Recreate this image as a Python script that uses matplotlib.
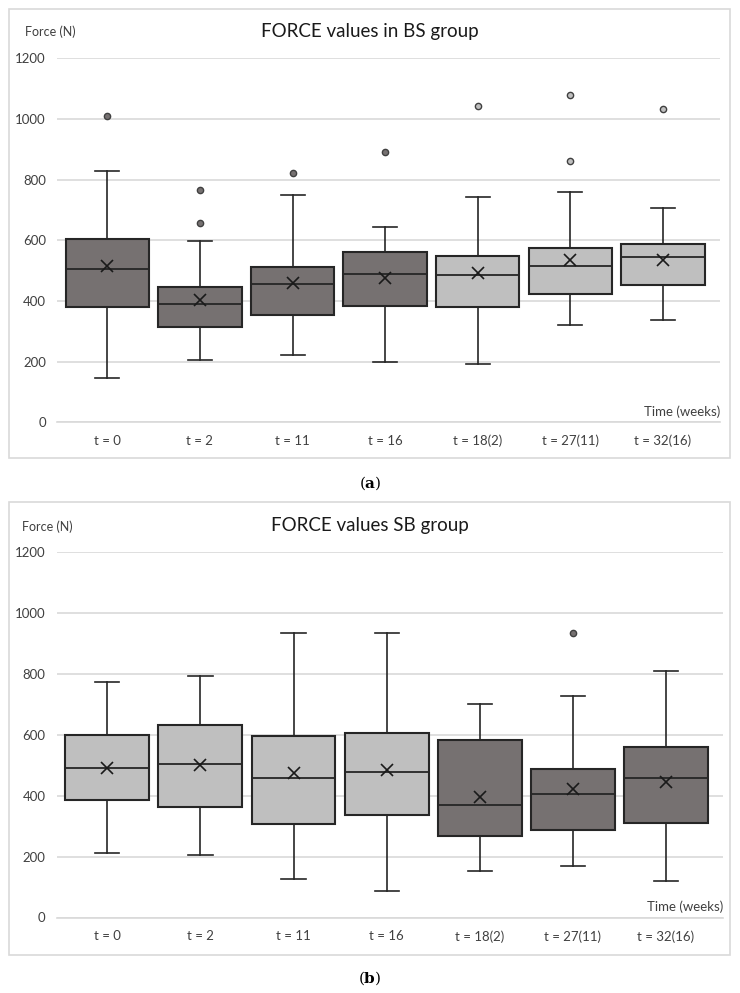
import matplotlib
matplotlib.use("Agg")
import matplotlib.pyplot as plt
from matplotlib.patches import Rectangle

plt.rcParams['font.family'] = ['Lato', 'DejaVu Sans']
plt.rcParams['mathtext.fontset'] = 'dejavuserif'

labels = ['t = 0', 't = 2', 't = 11', 't = 16', 't = 18(2)', 't = 27(11)', 't = 32(16)']

# panel (a): BS group
bs_low = [146, 205, 222, 199, 193, 320, 338]
bs_q1 = [379, 315, 353, 382, 379, 424, 452]
bs_med = [504, 390, 456, 489, 486, 516, 544]
bs_q3 = [604, 445, 512, 560, 549, 574, 587]
bs_high = [828, 597, 748, 643, 744, 758, 706]
bs_mean = [516, 403, 458, 477, 491, 534, 536]
bs_out = [[1011], [766, 658], [822], [891], [1044], [861, 1079], [1033]]
bs_dark = [True, True, True, True, False, False, False]

# panel (b): SB group
sb_low = [212, 204, 127, 87, 154, 169, 119]
sb_q1 = [386, 362, 308, 336, 268, 287, 310]
sb_med = [490, 504, 459, 478, 369, 405, 458]
sb_q3 = [599, 634, 597, 607, 583, 489, 561]
sb_high = [773, 794, 935, 936, 701, 727, 810]
sb_mean = [492, 501, 474, 485, 395, 421, 446]
sb_out = [[], [], [], [], [], [936], []]
sb_dark = [False, False, False, False, True, True, True]

DARK = '#767171'
LIGHT = '#bfbfbf'
EDGE = '#262626'
GRID = '#d9d9d9'
TXT = '#404040'

fig = plt.figure(figsize=(7.4, 9.93), dpi=100)

# panel frames
for y0, y1 in [(9, 458), (502, 955)]:
    fig.patches.append(Rectangle((9 / 740, 1 - y1 / 993), 721 / 740, (y1 - y0) / 993,
                                 transform=fig.transFigure, fill=False,
                                 edgecolor=GRID, linewidth=1.2))


def draw(ax, low, q1, med, q3, high, mean, outs, dark):
    for i in range(len(labels)):
        st = [dict(whislo=low[i], q1=q1[i], med=med[i], q3=q3[i], whishi=high[i],
                   mean=mean[i], fliers=outs[i])]
        col = DARK if dark[i] else LIGHT
        ax.bxp(st, positions=[i], widths=0.9, patch_artist=True, showmeans=True,
               boxprops=dict(facecolor=col, edgecolor=EDGE, linewidth=1.5),
               medianprops=dict(color=EDGE, linewidth=1.3),
               whiskerprops=dict(color=EDGE, linewidth=1.2),
               capprops=dict(color=EDGE, linewidth=1.2), capwidths=0.26,
               meanprops=dict(marker='x', markeredgecolor='#1a1a1a', markersize=8,
                              markeredgewidth=1.2),
               flierprops=dict(marker='o', markerfacecolor=col, markeredgecolor='#404040',
                               markersize=4.5, markeredgewidth=1.0),
               zorder=3)
    ax.set_xlim(-0.543, 6.615)
    ax.set_ylim(0, 1200)
    ax.set_yticks(range(0, 1201, 200))
    ax.set_xticks(range(len(labels)))
    ax.set_xticklabels(labels)
    ax.yaxis.grid(True, color=GRID, linewidth=1.2)
    ax.set_axisbelow(True)
    for s in ['left', 'right', 'top']:
        ax.spines[s].set_visible(False)
    ax.spines['bottom'].set_color(GRID)
    ax.spines['bottom'].set_linewidth(1.2)
    ax.tick_params(axis='both', length=0, labelsize=9.5, labelcolor=TXT)
    ax.tick_params(axis='x', pad=9)
    ax.tick_params(axis='y', pad=8)
    ax.text(1.0, 0.012, 'Time (weeks)', transform=ax.transAxes, ha='right', va='bottom',
            fontsize=9.5, color=TXT)


ax1 = fig.add_axes([57 / 740, 1 - 422.3 / 993, 663 / 740, 363.9 / 993])
draw(ax1, bs_low, bs_q1, bs_med, bs_q3, bs_high, bs_mean, bs_out, bs_dark)
ax2 = fig.add_axes([56.7 / 740, 1 - 917.5 / 993, 666.6 / 740, 365.2 / 993])
draw(ax2, sb_low, sb_q1, sb_med, sb_q3, sb_high, sb_mean, sb_out, sb_dark)

fig.text(370 / 740, 1 - 32 / 993, 'FORCE values in BS group', ha='center', va='center',
         fontsize=13.5, color='#1a1a1a')
fig.text(370 / 740, 1 - 525 / 993, 'FORCE values SB group', ha='center', va='center',
         fontsize=13.5, color='#1a1a1a')
fig.text(25 / 740, 1 - 32 / 993, 'Force (N)', ha='left', va='center', fontsize=9,
         color=TXT)
fig.text(22 / 740, 1 - 527 / 993, 'Force (N)', ha='left', va='center', fontsize=9,
         color=TXT)

for yy, letter in [(483, 'a'), (978, 'b')]:
    fig.text(370 / 740, 1 - yy / 993, '(' + r'$\mathbf{' + letter + '}$' + ')',
             ha='center', va='center', fontsize=11, family='DejaVu Serif')

fig.savefig('out.png', dpi=100)
